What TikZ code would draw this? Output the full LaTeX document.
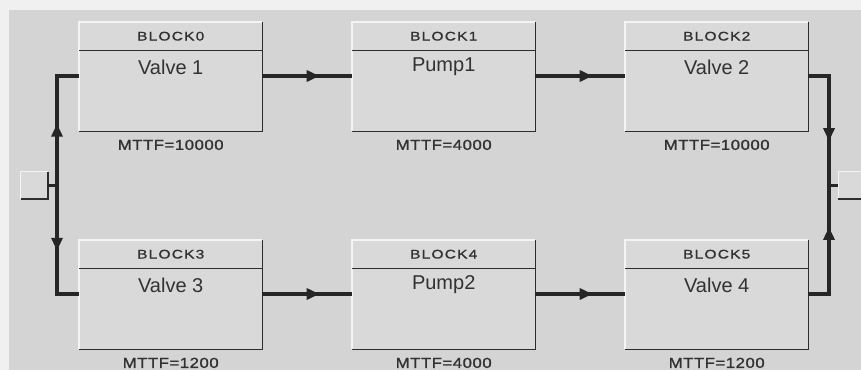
\documentclass[tikz,border=0pt]{standalone}
\usepackage{fontspec}
\setmainfont{Liberation Sans}
\newfontfamily\hdrfont[FakeStretch=1.25,LetterSpace=9,FakeBold=1.2]{Liberation Sans}
\newfontfamily\mttffont[FakeStretch=1.15,LetterSpace=4,FakeBold=1.4]{Liberation Sans}
\usetikzlibrary{arrows.meta,decorations.markings,calc}
\definecolor{bgray}{RGB}{212,212,212}
\definecolor{margin}{RGB}{240,240,240}
\definecolor{boxfill}{RGB}{217,217,217}
\definecolor{hilite}{RGB}{244,244,244}
\definecolor{shade}{RGB}{45,45,45}
\definecolor{wire}{RGB}{38,38,38}
\definecolor{txt}{RGB}{50,50,50}
\tikzset{
  boxpart/.style={fill=boxfill, draw=none, inner sep=0pt, anchor=north west},
  lightedge/.style={draw=hilite, line width=1.2pt},
  darkedge/.style={draw=shade, line width=1.5pt},
  hdrtext/.style={text=txt, font=\hdrfont\fontsize{12.5}{12.5}\selectfont, inner sep=0pt},
  nametext/.style={text=txt, font=\fontsize{20}{20}\selectfont, inner sep=0pt},
  mttftext/.style={text=txt, font=\mttffont\fontsize{14.5}{14.5}\selectfont, inner sep=0pt},
  conn/.style={draw=wire, line width=3.5pt},
  arrowat/.style={postaction={decorate}, decoration={markings,
     mark=at position #1 with {\arrow[wire]{Triangle[length=13pt,width=11pt]}}}},
  portbox/.style={fill=boxfill, draw=none, minimum width=27pt, minimum height=27pt, inner sep=0pt},
}
\newcommand\rbdblock[6]{%
  \node[boxpart, minimum width=183pt, minimum height=28pt] (#1h) at (#2,#3) {};
  \node[boxpart, minimum width=183pt, minimum height=81pt] (#1) at (#2,#3+28) {};
  \draw[lightedge] (#1.south west) -- (#1h.north west) -- (#1h.north east);
  \draw[darkedge] (#1h.north east) -- (#1.south east) -- (#1.south west);
  \draw[darkedge] (#1h.south west) -- (#1h.south east);
  \node[hdrtext] (#1t) at (#1h.center) {#4};
  \node[nametext, anchor=center] (#1n) at ($(#1.north)+(0,17)$) {#5};
  \node[mttftext, anchor=center] (#1m) at ($(#1.south)+(0,13.5)$) {#6};
  \coordinate (#1i) at (#2,#3+54);
  \coordinate (#1o) at (#2+183,#3+54);
}
\begin{document}
\begin{tikzpicture}[x=1pt,y=-1pt]
\useasboundingbox (0,0) rectangle (861,370);
\fill[margin] (0,0) rectangle (861,370);
\fill[bgray] (9,10) rectangle (861,370);

\rbdblock{b0}{79}{22}{BLOCK0}{Valve 1}{MTTF=10000}
\rbdblock{b1}{352}{22}{BLOCK1}{Pump1}{MTTF=4000}
\rbdblock{b2}{625}{22}{BLOCK2}{Valve 2}{MTTF=10000}
\rbdblock{b3}{79}{240}{BLOCK3}{Valve 3}{MTTF=1200}
\rbdblock{b4}{352}{240}{BLOCK4}{Pump2}{MTTF=4000}
\rbdblock{b5}{625}{240}{BLOCK5}{Valve 4}{MTTF=1200}

% source and sink ports
\node[portbox] (src) at (34.5,185.5) {};
\draw[lightedge] (src.south west) -- (src.north west) -- (src.north east);
\draw[darkedge] (src.north east) -- (src.south east) -- (src.south west);
\node[portbox] (snk) at (852,185.5) {};
\draw[lightedge] (snk.south west) -- (snk.north west) -- (snk.north east);
\draw[darkedge] (snk.south west) -- (snk.south east);

\coordinate (jl) at (57,185.5);
\coordinate (jr) at (829,185.5);

% series connectors
\draw[conn, arrowat=0.64] (b0o) -- (b1i);
\draw[conn, arrowat=0.64] (b1o) -- (b2i);
\draw[conn, arrowat=0.64] (b3o) -- (b4i);
\draw[conn, arrowat=0.64] (b4o) -- (b5i);

% left split
\draw[conn] (src.east) -- (jl);
\draw[conn, arrowat=0.47] (jl) |- (b0i);
\draw[conn, arrowat=0.50] (jl) |- (b3i);

% right merge
\draw[conn, arrowat=0.66] (b2o) -| (jr);
\draw[conn, arrowat=0.68] (b5o) -| (jr);
\draw[conn] (jr) -- (snk.west);
\end{tikzpicture}
\end{document}
